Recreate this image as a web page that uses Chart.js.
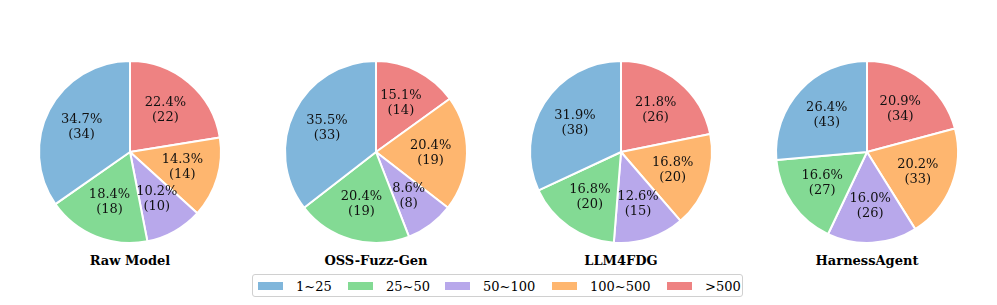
<!DOCTYPE html>
<html>
<head>
<meta charset="utf-8">
<script src="https://cdn.jsdelivr.net/npm/chart.js@4"></script>
<style>
  body { margin: 0; background: #fff; width: 997px; height: 305px; position: relative; overflow: hidden; font-family: "DejaVu Serif", "Liberation Serif", serif; }
  .pie { position: absolute; top: 52px; width: 200px; height: 200px; }
  .title { position: absolute; top: 253px; width: 200px; text-align: center; font-weight: bold; font-size: 13px; color: #000; }
  #legend { position: absolute; left: 252px; top: 274px; width: 491px; height: 23px; border: 1px solid #d0d0d0; border-radius: 3px; box-sizing: border-box; }
  .item { position: absolute; top: 0; height: 23px; font-size: 13px; line-height: 23px; color: #000; }
  .patch { position: absolute; top: 7px; width: 25px; height: 8px; }
</style>
</head>
<body>
<div id="legend"></div>
<script>
// categories in legend order
const categories = ['1~25', '25~50', '50~100', '100~500', '>500'];
const colors = ['#80b6db', '#83da94', '#b8a8eb', '#feb66f', '#ee8282'];

const models = ['Raw Model', 'OSS-Fuzz-Gen', 'LLM4FDG', 'HarnessAgent'];
const rawModel = [34, 18, 10, 14, 22];
const ossFuzzGen = [33, 19, 8, 19, 14];
const llm4fdg = [38, 20, 15, 20, 26];
const harnessAgent = [43, 27, 26, 33, 34];
const seriesList = [rawModel, ossFuzzGen, llm4fdg, harnessAgent];

const centers = [130, 376, 621, 867];
const FONT = '"DejaVu Serif", "Liberation Serif", serif';

// étiquettes "xx.x%\n(n)" à 0.6 du rayon, comme matplotlib
const pctLabels = {
  id: 'pctLabels',
  afterDatasetsDraw(chart) {
    const ctx = chart.ctx;
    const meta = chart.getDatasetMeta(0);
    const data = chart.data.datasets[0].data;
    const total = data.reduce((a, b) => a + b, 0);
    ctx.save();
    ctx.font = '13px ' + FONT;
    ctx.fillStyle = '#111';
    ctx.textAlign = 'center';
    ctx.textBaseline = 'middle';
    meta.data.forEach((arc, i) => {
      const p = arc.getProps(['x', 'y', 'startAngle', 'endAngle', 'outerRadius'], true);
      const a = (p.startAngle + p.endAngle) / 2;
      const r = p.outerRadius * 0.6;
      const x = p.x + Math.cos(a) * r;
      const y = p.y + Math.sin(a) * r;
      ctx.fillText((data[i] / total * 100).toFixed(1) + '%', x, y - 7.5);
      ctx.fillText('(' + data[i] + ')', x, y + 7.5);
    });
    ctx.restore();
  }
};

seriesList.forEach((series, k) => {
  const canvas = document.createElement('canvas');
  canvas.className = 'pie';
  canvas.width = 200;
  canvas.height = 200;
  canvas.style.left = (centers[k] - 100) + 'px';
  document.body.appendChild(canvas);

  const title = document.createElement('div');
  title.className = 'title';
  title.style.left = (centers[k] - 100) + 'px';
  title.textContent = models[k];
  document.body.appendChild(title);

  // ordre horaire depuis le haut : >500 ... 1~25
  const order = [4, 3, 2, 1, 0];
  new Chart(canvas.getContext('2d'), {
    type: 'pie',
    data: {
      labels: order.map(i => categories[i]),
      datasets: [{
        data: order.map(i => series[i]),
        backgroundColor: order.map(i => colors[i]),
        borderColor: '#ffffff',
        borderWidth: 2
      }]
    },
    options: {
      responsive: false,
      animation: false,
      layout: { padding: 8 },
      plugins: { legend: { display: false }, tooltip: { enabled: false } }
    },
    plugins: [pctLabels]
  });
});

// légende commune
const legend = document.getElementById('legend');
const patchX = [5, 95, 192, 299, 414];
categories.forEach((c, i) => {
  const patch = document.createElement('div');
  patch.className = 'patch';
  patch.style.left = patchX[i] + 'px';
  patch.style.background = colors[i];
  legend.appendChild(patch);
  const item = document.createElement('div');
  item.className = 'item';
  item.style.left = (patchX[i] + 38) + 'px';
  item.textContent = c;
  legend.appendChild(item);
});
</script>
</body>
</html>
